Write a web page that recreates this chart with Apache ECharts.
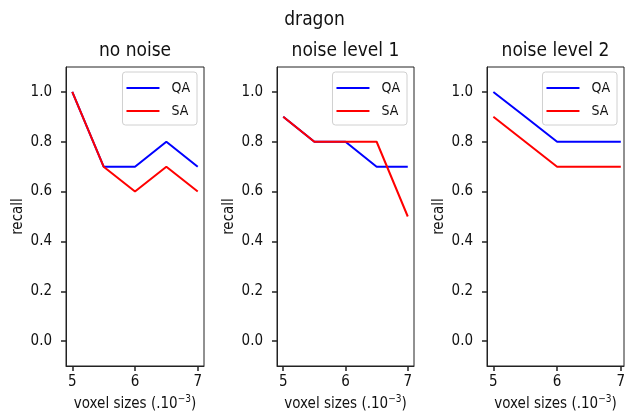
<!DOCTYPE html>
<html>
<head>
<meta charset="utf-8">
<script src="https://cdn.jsdelivr.net/npm/echarts@6/dist/echarts.min.js"></script>
<style>
  html, body { margin: 0; padding: 0; background: #fff; }
  #chart { width: 629px; height: 418px; }
</style>
</head>
<body>
<div id="chart"></div>
<script>
// voxel sizes (x 10^-3)
var voxelSizes = [5, 5.5, 6, 6.5, 7];
var panelTitles = ['no noise', 'noise level 1', 'noise level 2'];
// recall per panel
var qaRecall = [
    [1.0, 0.7, 0.7, 0.8, 0.7],
    [0.9, 0.8, 0.8, 0.7, 0.7],
    [1.0, 0.9, 0.8, 0.8, 0.8]
];
var saRecall = [
    [1.0, 0.7, 0.6, 0.7, 0.6],
    [0.9, 0.8, 0.8, 0.8, 0.5],
    [0.9, 0.8, 0.7, 0.7, 0.7]
];
var xTicks = [5, 6, 7];
var yTicks = [0.0, 0.2, 0.4, 0.6, 0.8, 1.0];

var font = '"DejaVu Sans Condensed", "DejaVu Sans", sans-serif';
var W = 629;
// grid boxes
var grids = [
    {left: 66, top: 67, width: 138, height: 299},
    {left: 277, top: 67, width: 137, height: 299},
    {left: 487, top: 67, width: 137, height: 299}
];
var xMax = [7.1, 7.1, 7.05];

function pairs(ys) {
    return voxelSizes.map(function (x, i) { return [x, ys[i]]; });
}

var option = {
    backgroundColor: '#fff',
    animation: false,
    title: [{
        text: 'dragon', left: 'center', top: 11, padding: 0,
        textStyle: {fontFamily: font, fontSize: 19, fontWeight: 'normal', color: '#111'}
    }],
    legend: [],
    grid: [],
    xAxis: [],
    yAxis: [],
    series: []
};

grids.forEach(function (g, i) {
    option.grid.push({
        left: g.left, top: g.top, width: g.width, height: g.height,
        show: true, borderColor: '#222', borderWidth: 1, backgroundColor: 'transparent'
    });
    option.title.push({
        text: panelTitles[i], left: g.left + g.width / 2, textAlign: 'center', top: 42, padding: 0,
        textStyle: {fontFamily: font, fontSize: 19, fontWeight: 'normal', color: '#111'}
    });
    option.xAxis.push({
        type: 'value', gridIndex: i, min: 4.9, max: xMax[i],
        name: 'voxel sizes (.10{sup|\u22123})',
        nameLocation: 'middle', nameGap: 39,
        nameTextStyle: {
            fontFamily: font, fontSize: 15, color: '#111', verticalAlign: 'bottom',
            rich: {sup: {fontFamily: font, fontSize: 10, color: '#111', padding: [0, 0, 8, 0], verticalAlign: 'bottom'}}
        },
        axisLine: {show: true, onZero: false, lineStyle: {color: '#222'}},
        splitLine: {show: false},
        axisTick: {show: true, inside: false, length: 5, customValues: xTicks, lineStyle: {color: '#222', width: 1.5}},
        axisLabel: {customValues: xTicks, margin: 9, fontFamily: font, fontSize: 15, color: '#111'}
    });
    option.yAxis.push({
        type: 'value', gridIndex: i, min: -0.1, max: 1.1,
        name: 'recall', nameLocation: 'middle', nameGap: 40,
        nameTextStyle: {fontFamily: font, fontSize: 15, color: '#111'},
        axisLine: {show: true, onZero: false, lineStyle: {color: '#222'}},
        splitLine: {show: false},
        axisTick: {show: true, inside: false, length: 5, customValues: yTicks, lineStyle: {color: '#222', width: 1.5}},
        axisLabel: {
            customValues: yTicks, margin: 14, fontFamily: font, fontSize: 15, color: '#111',
            formatter: function (v) { return v.toFixed(1); }
        }
    });
    option.legend.push({
        data: ['QA', 'SA'], orient: 'vertical',
        right: W - (g.left + g.width) + 7, top: 72,
        icon: 'rect', itemWidth: 33, itemHeight: 2, itemGap: 9,
        padding: [9, 7, 7, 4],
        borderColor: '#d0d0d0', borderWidth: 1, borderRadius: 3,
        backgroundColor: 'rgba(255,255,255,0.8)',
        textStyle: {fontFamily: font, fontSize: 14, color: '#111', padding: [0, 0, 0, 7]}
    });
    option.series.push({
        name: 'QA', type: 'line', xAxisIndex: i, yAxisIndex: i,
        data: pairs(qaRecall[i]), showSymbol: false, color: '#0000ff',
        lineStyle: {width: 2, color: '#0000ff'}
    });
    option.series.push({
        name: 'SA', type: 'line', xAxisIndex: i, yAxisIndex: i,
        data: pairs(saRecall[i]), showSymbol: false, color: '#ff0000',
        lineStyle: {width: 2, color: '#ff0000'}
    });
});

var myChart = echarts.init(document.getElementById('chart'));
myChart.setOption(option);
</script>
</body>
</html>
